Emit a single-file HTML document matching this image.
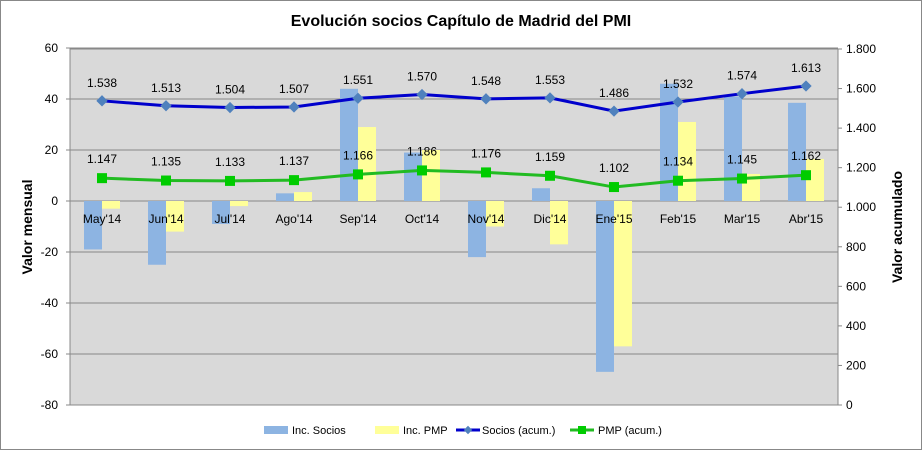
<!DOCTYPE html>
<html><head><meta charset="utf-8"><style>
body{margin:0;background:#fff}
svg{display:block;font-family:"Liberation Sans",sans-serif}
</style></head><body>
<svg id="c" width="922" height="450" xmlns="http://www.w3.org/2000/svg"></svg>
<script>
const s=document.getElementById('c');let h='';
h+='<rect x="0.5" y="0.5" width="921" height="449" fill="#fff" stroke="#888"/>';
h+='<text x="461" y="26" text-anchor="middle" font-size="16" font-weight="bold">Evolución socios Capítulo de Madrid del PMI</text>';
const L=70,R=838,T=49,B=405;
h+=`<rect x="${L}" y="${T}" width="${R-L}" height="${B-T}" fill="#d9d9d9" stroke="#888"/>`;
const yl=v=>201-v*2.55, yr=v=>405-v*0.19778;
for(let v=-80;v<=60;v+=20){const y=yl(v);h+=`<line x1="${L}" x2="${R}" y1="${y}" y2="${y}" stroke="#888"/>`;
h+=`<text x="58" y="${y+4}" text-anchor="end" font-size="12">${v}</text>`;h+=`<line x1="${L-4}" x2="${L}" y1="${y}" y2="${y}" stroke="#888"/>`;}
for(let v=0;v<=1800;v+=200){const y=yr(v);h+=`<line x1="${R}" x2="${R+4}" y1="${y}" y2="${y}" stroke="#888"/>`;
h+=`<text x="846" y="${y+4}" font-size="12">${v>=1000?(Math.floor(v/1000)+'.'+String(v%1000).padStart(3,'0')):v}</text>`;}
const cats=["May'14","Jun'14","Jul'14","Ago'14","Sep'14","Oct'14","Nov'14","Dic'14","Ene'15","Feb'15","Mar'15","Abr'15"];
const sb=[-19,-25,-9,3,44,19,-22,5,-67,46,41,38.5],pb=[-3,-12,-2,3.5,29,20,-10,-17,-57,31,10.6,16.5];
const sa=[1538,1513,1504,1507,1551,1570,1548,1553,1486,1532,1574,1613],pa=[1147,1135,1133,1137,1166,1186,1176,1159,1102,1134,1145,1162];
const cx=i=>L+32+i*64;
cats.forEach((c,i)=>{const x=cx(i);
let y=yl(sb[i]);h+=`<rect x="${x-18}" y="${Math.min(y,201)}" width="18" height="${Math.abs(y-201)}" fill="#8db4e2"/>`;
y=yl(pb[i]);h+=`<rect x="${x}" y="${Math.min(y,201)}" width="18" height="${Math.abs(y-201)}" fill="#ffff99"/>`;});
cats.forEach((c,i)=>{h+=`<text x="${cx(i)}" y="223" text-anchor="middle" font-size="12">${c}</text>`;});
const f=v=>Math.floor(v/1000)+'.'+String(v%1000).padStart(3,'0');
h+=`<polyline fill="none" stroke="#0000cc" stroke-width="3" points="${sa.map((v,i)=>cx(i)+','+yr(v)).join(' ')}"/>`;
sa.forEach((v,i)=>{const x=cx(i),y=yr(v);h+=`<rect x="${x-4}" y="${y-4}" width="8" height="8" fill="#4f81bd" transform="rotate(45 ${x} ${y})"/>`;
h+=`<text x="${x}" y="${y-14}" text-anchor="middle" font-size="12">${f(v)}</text>`;});
h+=`<polyline fill="none" stroke="#22bb22" stroke-width="3" points="${pa.map((v,i)=>cx(i)+','+yr(v)).join(' ')}"/>`;
pa.forEach((v,i)=>{const x=cx(i),y=yr(v);h+=`<rect x="${x-5}" y="${y-5}" width="10" height="10" fill="#00cc00"/>`;
h+=`<text x="${x}" y="${y-15}" text-anchor="middle" font-size="12">${f(v)}</text>`;});
h+='<text transform="translate(32,227) rotate(-90)" text-anchor="middle" font-size="14" font-weight="bold">Valor mensual</text>';
h+='<text transform="translate(902,227) rotate(-90)" text-anchor="middle" font-size="14" font-weight="bold">Valor acumulado</text>';
h+='<rect x="264" y="426" width="24" height="8" fill="#8db4e2"/><text x="292" y="434" font-size="11">Inc. Socios</text>';
h+='<rect x="375" y="426" width="24" height="8" fill="#ffff99"/><text x="403" y="434" font-size="11">Inc. PMP</text>';
h+='<line x1="456" x2="480" y1="430" y2="430" stroke="#0000cc" stroke-width="3"/><rect x="465" y="427" width="6" height="6" fill="#4f81bd" transform="rotate(45 468 430)"/><text x="482" y="434" font-size="11">Socios (acum.)</text>';
h+='<line x1="570" x2="594" y1="430" y2="430" stroke="#22bb22" stroke-width="3"/><rect x="578" y="426" width="8" height="8" fill="#00cc00"/><text x="598" y="434" font-size="11">PMP (acum.)</text>';
s.innerHTML=h;
</script>
</body></html>
